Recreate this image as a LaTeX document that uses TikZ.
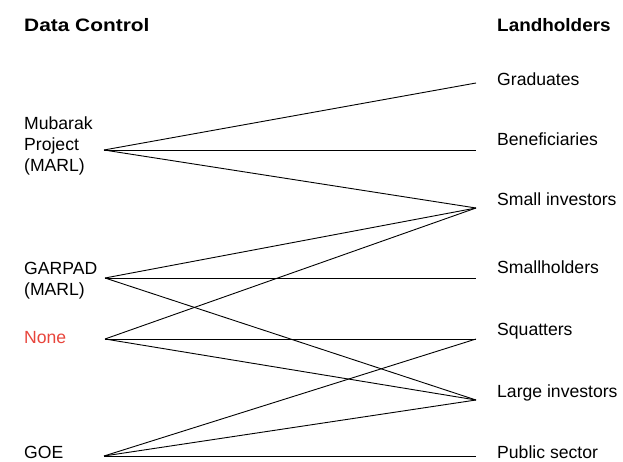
\documentclass[tikz,border=0pt]{standalone}
\usepackage{fontspec}
\setmainfont{Liberation Sans}
\definecolor{nonered}{HTML}{E8453C}
\begin{document}
\begin{tikzpicture}[x=1pt,y=-1pt,
  lbl/.style={anchor=base west,inner sep=0pt,font=\fontsize{17.6}{21}\selectfont},
  hdr/.style={anchor=base west,inner sep=0pt,font=\fontsize{18}{21}\selectfont\bfseries},
  link/.style={draw=black,line width=0.9pt}]
\useasboundingbox (0,0) rectangle (623,462);
\node[hdr] (hl) at (24,32) {\scalebox{1.16}[1]{Data Control}};
\node[hdr] (hr) at (497,32) {\scalebox{1.05}[1]{Landholders}};
% left labels
\node[lbl,align=left] (mub) at (24,172) {Mubarak\\Project\\(MARL)};
\node[lbl,align=left] (gar) at (24,295) {GARPAD\\(MARL)};
\node[lbl,text=nonered] (non) at (24,343) {None};
\node[lbl] (goe) at (24,458) {GOE};
% right labels
\node[lbl] (gra) at (497,86) {Graduates};
\node[lbl] (ben) at (497,146) {Beneficiaries};
\node[lbl] (sin) at (497,206) {Small investors};
\node[lbl] (smh) at (497,273) {Smallholders};
\node[lbl] (squ) at (497,335) {Squatters};
\node[lbl] (lin) at (497,397) {Large investors};
\node[lbl] (pub) at (497,458) {Public sector};
% endpoints
\coordinate (Lmub) at (104,150);
\coordinate (Lgar) at (105,278);
\coordinate (Lnon) at (105,339);
\coordinate (Lgoe) at (104,456);
\coordinate (Rgra) at (476,83);
\coordinate (Rben) at (476,150);
\coordinate (Rsin) at (476,208);
\coordinate (Rsmh) at (476,278);
\coordinate (Rsqu) at (476,339);
\coordinate (Rlin) at (476,400);
\coordinate (Rpub) at (476,456);
% connectors
\draw[link] (Lmub) -- (Rgra);
\draw[link] (Lmub) -- (Rben);
\draw[link] (Lmub) -- (Rsin);
\draw[link] (Lgar) -- (Rsin);
\draw[link] (Lgar) -- (Rsmh);
\draw[link] (Lgar) -- (Rlin);
\draw[link] (Lnon) -- (Rsin);
\draw[link] (Lnon) -- (Rsqu);
\draw[link] (Lnon) -- (Rlin);
\draw[link] (Lgoe) -- (Rsqu);
\draw[link] (Lgoe) -- (Rlin);
\draw[link] (Lgoe) -- (Rpub);
\end{tikzpicture}
\end{document}
